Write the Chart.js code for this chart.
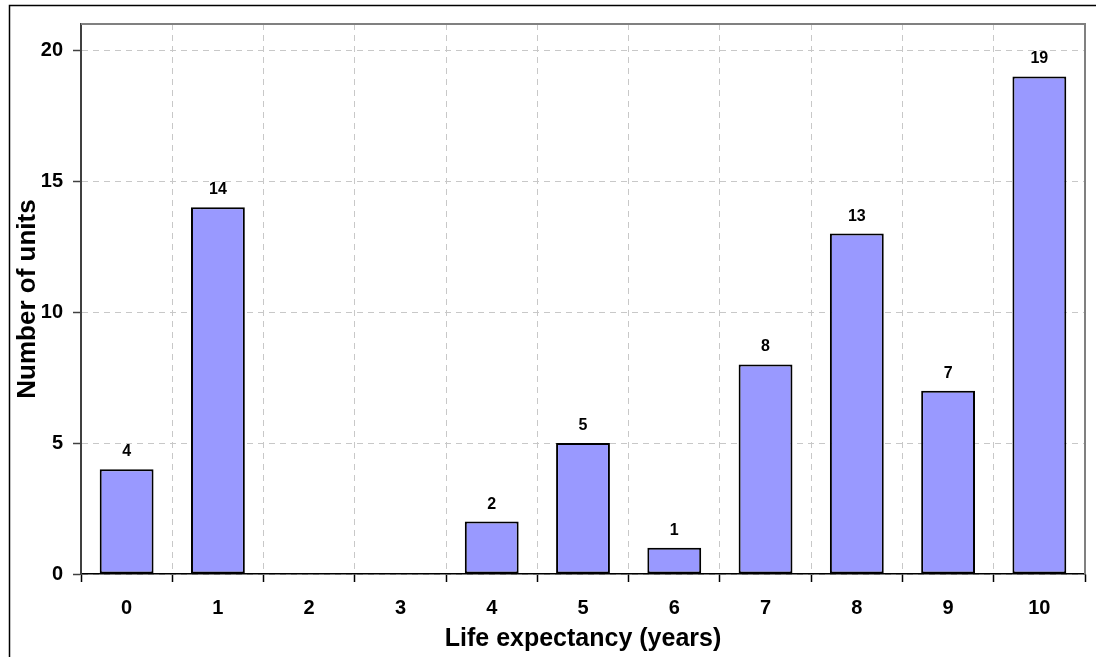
<!DOCTYPE html>
<html>
<head>
<meta charset="utf-8">
<script src="https://cdn.jsdelivr.net/npm/chart.js@4/dist/chart.umd.min.js"></script>
<style>
  html, body { margin: 0; padding: 0; background: #ffffff; }
  #wrap { width: 1096px; height: 657px; position: relative; }
</style>
</head>
<body>
<div id="wrap"><canvas id="chart" width="1096" height="657"></canvas></div>
<script>
// Life expectancy histogram data
const categories = ['0', '1', '2', '3', '4', '5', '6', '7', '8', '9', '10'];
const unitCounts = [4, 14, 0, 0, 2, 5, 1, 8, 13, 7, 19];
const yTickValues = [0, 5, 10, 15, 20];

const FONT = '"Liberation Sans", Arial, Helvetica, sans-serif';

// Outer frame of the figure, plus the grey top/right edges of the plot box
const framePlugin = {
  id: 'frame',
  beforeDraw(chart) {
    const ctx = chart.ctx;
    ctx.save();
    ctx.fillStyle = '#ffffff';
    ctx.fillRect(0, 0, chart.width, chart.height);
    ctx.strokeStyle = '#000000';
    ctx.lineWidth = 1.5;
    ctx.strokeRect(9.5, 5.5, chart.width + 10, chart.height + 10);
    ctx.restore();
  },
  afterDraw(chart) {
    const a = chart.chartArea;
    const ctx = chart.ctx;
    ctx.save();
    ctx.strokeStyle = '#808080';
    ctx.lineWidth = 2;
    ctx.beginPath();
    ctx.moveTo(a.left, a.top);
    ctx.lineTo(a.right, a.top);
    ctx.lineTo(a.right, a.bottom);
    ctx.stroke();
    ctx.restore();
  }
};

// Value labels above each non-zero bar
const valueLabels = {
  id: 'valueLabels',
  afterDatasetsDraw(chart) {
    const ctx = chart.ctx;
    const meta = chart.getDatasetMeta(0);
    ctx.save();
    ctx.font = 'bold 16px ' + FONT;
    ctx.fillStyle = '#000000';
    ctx.textAlign = 'center';
    ctx.textBaseline = 'alphabetic';
    meta.data.forEach((bar, i) => {
      const v = unitCounts[i];
      if (!v) return;
      ctx.fillText(String(v), bar.x, bar.y - 13);
    });
    ctx.restore();
  }
};

new Chart(document.getElementById('chart'), {
  type: 'bar',
  data: {
    labels: categories,
    datasets: [{
      data: unitCounts,
      backgroundColor: '#9999ff',
      borderColor: '#000000',
      borderWidth: 2,
      borderSkipped: false,
      categoryPercentage: 1.0,
      barPercentage: 0.59
    }]
  },
  options: {
    responsive: false,
    animation: false,
    devicePixelRatio: 1,
    layout: { padding: { top: 24, right: 11, left: 0, bottom: 0 } },
    plugins: {
      legend: { display: false },
      tooltip: { enabled: false }
    },
    scales: {
      x: {
        offset: true,
        grid: {
          offset: true,
          color: '#c8c8c8',
          lineWidth: 1,
          tickLength: 8,
          tickColor: '#000000',
          tickWidth: 1.5
        },
        border: { color: '#000000', width: 1.5, dash: [6, 5] },
        ticks: {
          color: '#000000',
          font: { family: FONT, size: 20, weight: 'bold' },
          padding: 14,
          maxRotation: 0
        },
        title: {
          display: true,
          text: 'Life expectancy (years)',
          color: '#000000',
          font: { family: FONT, size: 25, weight: 'bold' },
          padding: { top: 0, bottom: 3 }
        },
        afterFit(scale) { scale.height = 83; }
      },
      y: {
        min: 0,
        max: 21,
        afterBuildTicks(scale) {
          scale.ticks = yTickValues.map(v => ({ value: v }));
        },
        grid: {
          color: '#c8c8c8',
          lineWidth: 1,
          tickLength: 8,
          tickColor: '#404040',
          tickWidth: 1.5
        },
        border: { color: '#404040', width: 2, dash: [6, 5] },
        ticks: {
          color: '#000000',
          font: { family: FONT, size: 20, weight: 'bold' },
          padding: 10
        },
        title: {
          display: true,
          text: 'Number of units',
          color: '#000000',
          font: { family: FONT, size: 26, weight: 'bold' },
          padding: { top: 12, bottom: 0 }
        },
        afterFit(scale) { scale.width = 81; }
      }
    }
  },
  plugins: [framePlugin, valueLabels]
});
</script>
</body>
</html>
